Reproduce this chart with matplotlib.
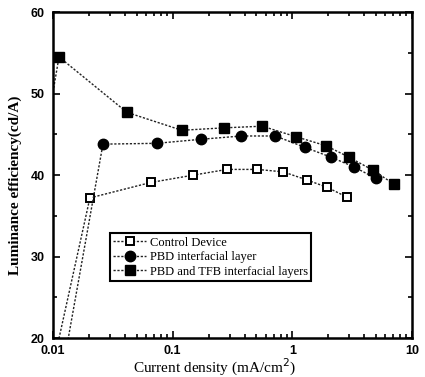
import numpy as np
import matplotlib
matplotlib.use('Agg')
import matplotlib.pyplot as plt
from matplotlib.ticker import LogLocator, MultipleLocator, FixedFormatter, FixedLocator

# data (first points lie outside the axes and get clipped)
x_ctrl = [0.0100, 0.0203, 0.0656, 0.149, 0.285, 0.51, 0.84, 1.33, 1.96, 2.87]
y_ctrl = [16.7, 37.2, 39.1, 40.0, 40.7, 40.7, 40.4, 39.4, 38.5, 37.3]

x_pbd = [0.011, 0.0261, 0.0735, 0.174, 0.376, 0.722, 1.28, 2.11, 3.29, 5.0]
y_pbd = [13.0, 43.8, 43.9, 44.4, 44.8, 44.8, 43.4, 42.2, 41.0, 39.6]

x_tfb = [0.0088, 0.0112, 0.0414, 0.119, 0.271, 0.562, 1.08, 1.92, 2.98, 4.73, 7.08]
y_tfb = [45.5, 54.5, 47.7, 45.5, 45.8, 46.0, 44.7, 43.6, 42.2, 40.6, 38.9]

labels = ["Control Device", "PBD interfacial layer", "PBD and TFB interfacial layers"]

fig = plt.figure(figsize=(4.25, 3.77), dpi=100)
ax = fig.add_axes([0.125, 0.103, 0.844, 0.865])

ls = (0, (1.6, 1.2))
ax.plot(x_ctrl, y_ctrl, color='#222222', lw=1.0, ls=ls, marker='s', ms=5.5,
        mfc='white', mec='black', mew=1.4, label=labels[0])
ax.plot(x_pbd, y_pbd, color='#222222', lw=1.0, ls=ls, marker='o', ms=7.5,
        mfc='black', mec='black', label=labels[1])
ax.plot(x_tfb, y_tfb, color='#222222', lw=1.0, ls=ls, marker='s', ms=6.5,
        mfc='black', mec='black', label=labels[2])

ax.set_xscale('log')
ax.set_xlim(0.01, 10)
ax.set_ylim(20, 60)

ax.xaxis.set_major_locator(FixedLocator([0.01, 0.1, 1, 10]))
ax.xaxis.set_major_formatter(FixedFormatter(['0.01', '0.1', '1', '10']))
ax.xaxis.set_minor_locator(LogLocator(base=10, subs=np.arange(2, 10)))
ax.yaxis.set_major_locator(MultipleLocator(10))
ax.yaxis.set_minor_locator(MultipleLocator(5))

ax.tick_params(which='both', direction='in', top=True, right=True, width=1.2)
ax.tick_params(which='major', length=5, labelsize=9)
ax.tick_params(axis='y', pad=6)
ax.tick_params(axis='x', pad=5)
ax.tick_params(which='minor', length=3)
ax.xaxis.set_minor_formatter(plt.NullFormatter())
for lab in ax.get_xticklabels() + ax.get_yticklabels():
    lab.set_fontweight('bold')
    lab.set_family('Liberation Sans')
for s in ax.spines.values():
    s.set_linewidth(1.8)

ax.set_xlabel("Current density (mA/cm$^2$)", family='Liberation Serif',
              fontsize=11)
ax.xaxis.set_label_coords(0.45, -0.058)
ax.set_ylabel("Luminance efficiency(cd/A)", family='Liberation Serif',
              fontsize=11, fontweight='bold')
ax.yaxis.set_label_coords(-0.086, 0.47)

leg = ax.legend(loc='lower left', bbox_to_anchor=(0.14, 0.155), fancybox=False,
                edgecolor='black', framealpha=1, borderpad=0.3, labelspacing=0.2,
                handlelength=2.6, handletextpad=0.3,
                prop={'family': 'Liberation Serif', 'size': 9})
leg.get_frame().set_linewidth(1.5)

plt.savefig('out.png', dpi=100)
